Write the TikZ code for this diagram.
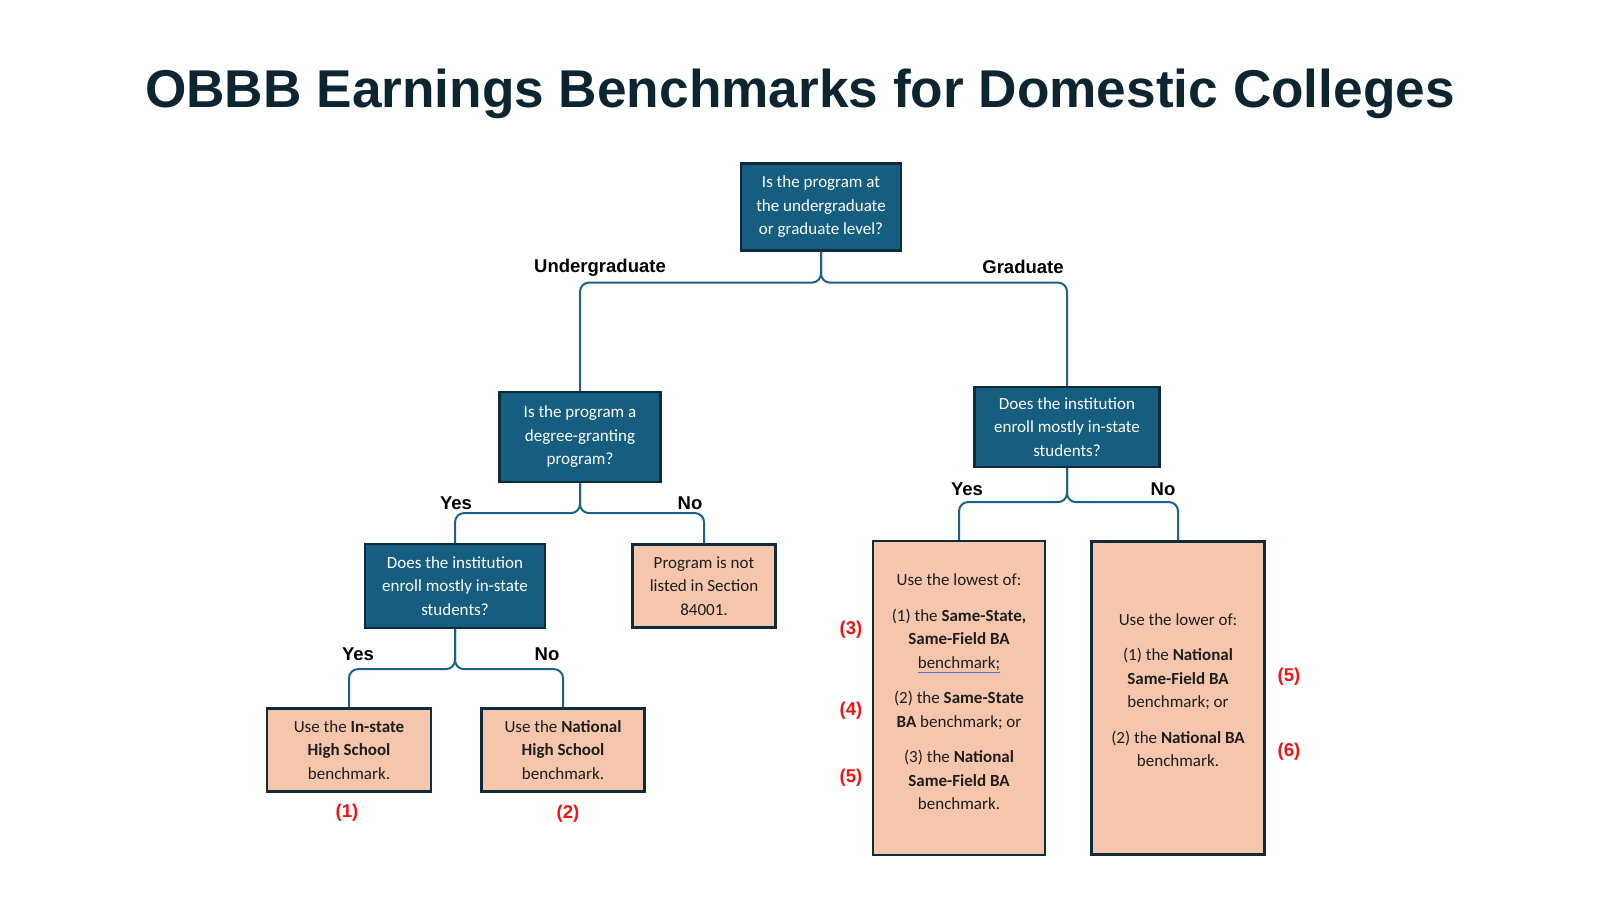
\documentclass[tikz,border=0pt]{standalone}
\usepackage{fontspec}
\setmainfont{Carlito}
\newfontfamily\headfont{Liberation Sans}
\usetikzlibrary{positioning, calc}
\definecolor{qBlue}{HTML}{165E80}
\definecolor{qEdge}{HTML}{0F2A3A}
\definecolor{ansPeach}{HTML}{F5C6AC}
\definecolor{linkBlue}{HTML}{1D6286}
\definecolor{titleInk}{HTML}{0D2530}
\definecolor{ansInk}{HTML}{1E1E1E}
\definecolor{refRed}{HTML}{F01414}
\definecolor{spellBlue}{HTML}{4A6FD8}
\newcommand\spellmark[1]{{\color{spellBlue}\underline{\textcolor{ansInk}{#1}}}}
\tikzset{
  qbox/.style={rectangle, draw=qEdge, fill=qBlue, line width=2.2pt, text=white,
               align=center, font=\fontsize{17}{23.5}\selectfont, inner sep=0pt},
  ansbox/.style={rectangle, draw=qEdge, fill=ansPeach, line width=2.2pt, text=ansInk,
                 align=center, font=\fontsize{17}{23.5}\selectfont, inner sep=0pt},
  anstext/.style={align=center, text=ansInk, font=\fontsize{17}{23.5}\selectfont},
  link/.style={draw=linkBlue, line width=2pt, rounded corners=9pt},
  branch/.style={font=\headfont\bfseries\fontsize{18.5}{20}\selectfont, text=black},
  refnum/.style={font=\headfont\bfseries\fontsize{18.5}{20}\selectfont, text=refRed},
}

\begin{document}
\begin{tikzpicture}[x=1pt, y=-1pt]
    \useasboundingbox (0,0) rectangle (1600,900);
    \node[font=\headfont\bfseries\fontsize{53.2}{60}\selectfont, text=titleInk] (title)
         at (800,94) {OBBB Earnings Benchmarks for Domestic Colleges};

    % questions
    \node[qbox, minimum width=160pt, minimum height=87pt] (level) at (821,207)
         {Is the program at\\the undergraduate\\or graduate level?};
    \node[qbox, minimum width=161pt, minimum height=90pt] (degree) at (580,437)
         {Is the program a\\degree-granting\\program?};
    \node[qbox, minimum width=185pt, minimum height=80pt] (gradInst) at (1067,427)
         {Does the institution\\enroll mostly in-state\\students?};
    \node[qbox, minimum width=180pt, minimum height=84pt] (ugInst) at (455,586)
         {Does the institution\\enroll mostly in-state\\students?};

    % answers
    \node[ansbox, minimum width=143pt, minimum height=83pt] (notListed) at (704,586)
         {Program is not\\listed in Section\\84001.};
    \node[ansbox, minimum width=164pt, minimum height=83pt] (inStateHS) at (349,750)
         {Use the \textbf{In-state}\\\textbf{High School}\\benchmark.};
    \node[ansbox, minimum width=163pt, minimum height=83pt] (natHS) at (563,750)
         {Use the \textbf{National}\\\textbf{High School}\\benchmark.};
    \node[ansbox, minimum width=172pt, minimum height=314pt, label={[anstext, yshift=6pt]center:{%
          Use the lowest of:\\[12pt]
          (1) the \textbf{Same-State,}\\\textbf{Same-Field BA}\\\spellmark{benchmark;}\\[12pt]
          (2) the \textbf{Same-State}\\\textbf{BA} benchmark; or\\[12pt]
          (3) the \textbf{National}\\\textbf{Same-Field BA}\\benchmark.}}] (lowest) at (959,698) {};
    \node[ansbox, minimum width=173pt, minimum height=313pt, label={[anstext, yshift=8pt]center:{%
          Use the lower of:\\[12pt]
          (1) the \textbf{National}\\\textbf{Same-Field BA}\\benchmark; or\\[12pt]
          (2) the \textbf{National BA}\\benchmark.}}] (lower) at (1178,698) {};

    % brace-like connectors
    \coordinate (levelJ) at ([yshift=-31pt]level.south);
    \draw[link] (level.south) |- (degree.north |- levelJ) -- (degree.north);
    \draw[link] (level.south) |- (gradInst.north |- levelJ) -- (gradInst.north);
    \coordinate (degreeJ) at ([yshift=-30pt]degree.south);
    \draw[link] (degree.south) |- (ugInst.north |- degreeJ) -- (ugInst.north);
    \draw[link] (degree.south) |- (notListed.north |- degreeJ) -- (notListed.north);
    \coordinate (ugInstJ) at ([yshift=-40pt]ugInst.south);
    \draw[link] (ugInst.south) |- (inStateHS.north |- ugInstJ) -- (inStateHS.north);
    \draw[link] (ugInst.south) |- (natHS.north |- ugInstJ) -- (natHS.north);
    \coordinate (gradInstJ) at ([yshift=-34pt]gradInst.south);
    \draw[link] (gradInst.south) |- (lowest.north |- gradInstJ) -- (lowest.north);
    \draw[link] (gradInst.south) |- (lower.north |- gradInstJ) -- (lower.north);

    % branch labels
    \node[branch] (ugLbl) at (600,268) {Undergraduate};
    \node[branch] (gradLbl) at (1023,267) {Graduate};
    \node[branch] (degYes) at (456,503) {Yes};
    \node[branch] (degNo) at (690,503) {No};
    \node[branch] (gradYes) at (967,489) {Yes};
    \node[branch] (gradNo) at (1163,489) {No};
    \node[branch] (ugYes) at (358,654) {Yes};
    \node[branch] (ugNo) at (547,654) {No};

    % benchmark numbers
    \node[refnum] (ref1) at (347,813) {(1)};
    \node[refnum] (ref2) at (568,814) {(2)};
    \node[refnum] (ref3) at (851,630) {(3)};
    \node[refnum] (ref4) at (851,711) {(4)};
    \node[refnum] (ref5a) at (851,778) {(5)};
    \node[refnum] (ref5b) at (1289,677) {(5)};
    \node[refnum] (ref6) at (1289,752) {(6)};
\end{tikzpicture}
\end{document}
